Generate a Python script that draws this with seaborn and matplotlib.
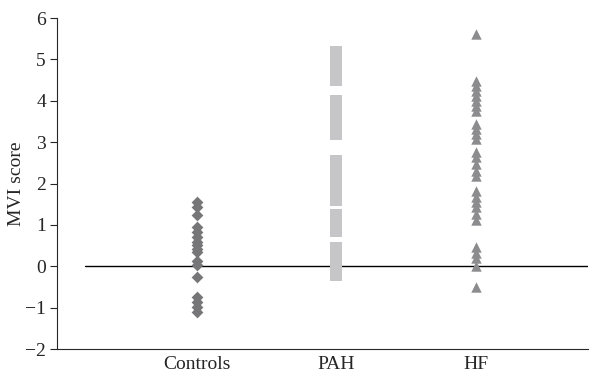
import numpy as np
import pandas as pd
import matplotlib
matplotlib.use("Agg")
import matplotlib.pyplot as plt
import seaborn as sns

categories = ["Controls", "PAH", "HF"]
controls = [1.55, 1.43, 1.23, 0.95, 0.83, 0.71, 0.59, 0.51, 0.43, 0.35, 0.14, 0.02,
            -0.26, -0.74, -0.86, -0.98, -1.1]
pah = [5.17, 5.05, 4.95, 4.82, 4.65, 4.5,
       4.0, 3.9, 3.7, 3.5, 3.35, 3.2,
       2.55, 2.4, 2.2, 2.0, 1.85, 1.7, 1.6,
       1.25, 1.1, 0.95, 0.85,
       0.45,
       0.15, 0.0, -0.2]
hf = [5.61, 4.48, 4.36, 4.24, 4.12, 4.0, 3.88, 3.76, 3.44, 3.32, 3.2, 3.08,
      2.75, 2.63, 2.47, 2.31, 2.19, 1.83, 1.67, 1.55, 1.43, 1.27, 1.11,
      0.47, 0.31, 0.19, 0.0, -0.5]
yticks = [-2, -1, 0, 1, 2, 3, 4, 5, 6]

sns.set_style("ticks")
plt.rcParams['font.family'] = ['Liberation Serif', 'DejaVu Serif']

df = pd.DataFrame({
    "group": ["Controls"] * len(controls) + ["PAH"] * len(pah) + ["HF"] * len(hf),
    "value": controls + pah + hf,
})

fig = plt.figure(figsize=(6.13, 3.79), dpi=100)
ax = fig.add_axes([0.093, 0.079, 0.866, 0.8735])

styles = {
    "Controls": dict(marker="D", color="#767678", size=6),
    "PAH": dict(marker="s", color="#c6c6c8", size=8),
    "HF": dict(marker="^", color="#8c8c8e", size=7.5),
}
for g in categories:
    st = styles[g]
    sns.stripplot(data=df[df.group == g], x="group", y="value", order=categories,
                  jitter=False, marker=st["marker"], color=st["color"], size=st["size"],
                  linewidth=0, ax=ax)

ax.set_xlim(-1.0, 2.8)
ax.set_ylim(-2, 6)
ax.plot([-0.8, 2.8], [0, 0], color="black", lw=1.0, zorder=0)
ax.set_yticks(yticks)
ax.set_yticklabels(["\u2212" + str(abs(t)) if t < 0 else str(t) for t in yticks])
ax.set_xlabel("")
ax.set_ylabel("MVI score", fontsize=14)
ax.yaxis.set_label_coords(-0.06, 0.5)
ax.tick_params(axis="x", length=0, labelsize=14, pad=5)
ax.tick_params(axis="y", length=5, width=0.8, labelsize=14, pad=3)
for s in ["top", "right"]:
    ax.spines[s].set_visible(False)
for s in ["left", "bottom"]:
    ax.spines[s].set_linewidth(0.8)

fig.savefig("out.png", dpi=100)
